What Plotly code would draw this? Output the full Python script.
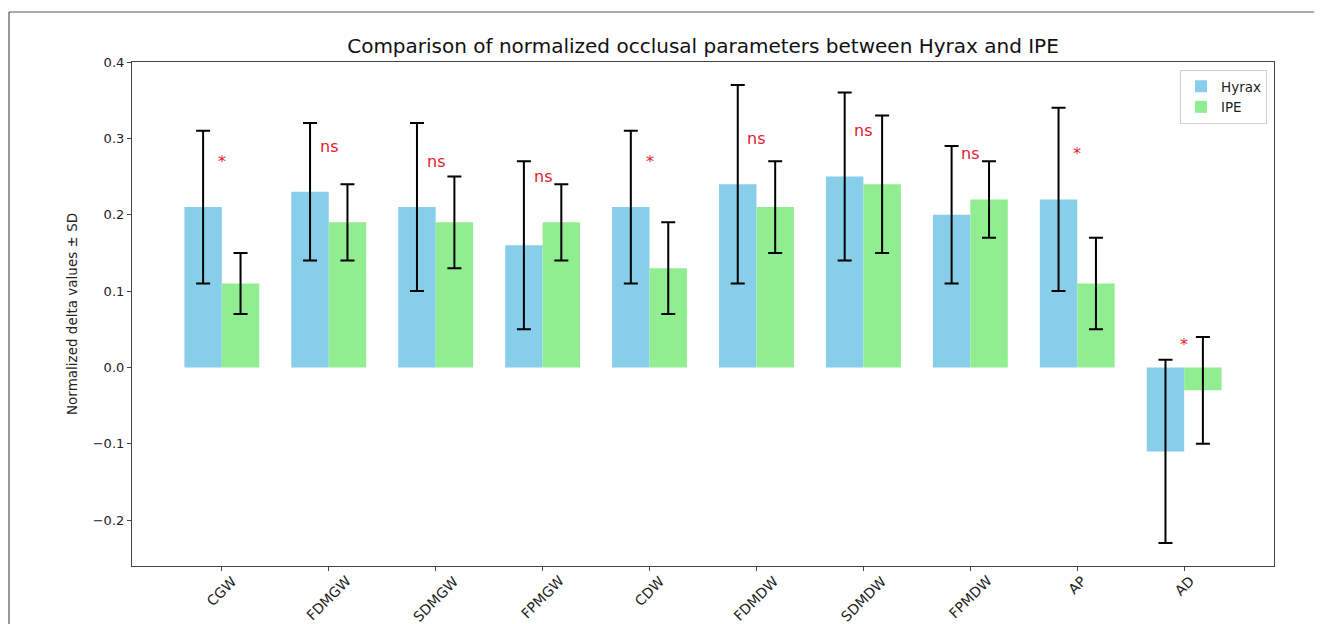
import plotly.graph_objects as go

categories = ["CGW", "FDMGW", "SDMGW", "FPMGW", "CDW", "FDMDW", "SDMDW", "FPMDW", "AP", "AD"]
hyrax_mean = [0.21, 0.23, 0.21, 0.16, 0.21, 0.24, 0.25, 0.20, 0.22, -0.11]
hyrax_sd = [0.10, 0.09, 0.11, 0.11, 0.10, 0.13, 0.11, 0.09, 0.12, 0.12]
ipe_mean = [0.11, 0.19, 0.19, 0.19, 0.13, 0.21, 0.24, 0.22, 0.11, -0.03]
ipe_sd = [0.04, 0.05, 0.06, 0.05, 0.06, 0.06, 0.09, 0.05, 0.06, 0.07]
significance = ["*", "ns", "ns", "ns", "*", "ns", "ns", "ns", "*", "*"]
y_ticks = [-0.2, -0.1, 0.0, 0.1, 0.2, 0.3, 0.4]

FONT = "DejaVu Sans"
OFF = 8  # page body margin
W, H = 1322 - OFF, 624 - OFF
L, T = 132 - OFF, 62 - OFF
R, B = W - (1274 - OFF), H - (566 - OFF)
PW, PH = W - L - R, H - T - B

def px_x(px):
    return (px - OFF - L) / PW

def px_y(py):
    return (H - B - (py - OFF)) / PH

fig = go.Figure()
fig.add_trace(go.Bar(
    x=categories, y=hyrax_mean, name="Hyrax",
    marker=dict(color="#87CEEB", line=dict(width=0)),
    error_y=dict(type="data", array=hyrax_sd, color="black", thickness=2, width=7),
))
fig.add_trace(go.Bar(
    x=categories, y=ipe_mean, name="IPE",
    marker=dict(color="#90EE90", line=dict(width=0)),
    error_y=dict(type="data", array=ipe_sd, color="black", thickness=2, width=7),
))

annotations = []
for cat, h, i, s in zip(categories, hyrax_mean, ipe_mean, significance):
    annotations.append(dict(
        x=cat, y=max(h, i) + 0.05, xref="x", yref="y", text=s, showarrow=False,
        xanchor="center", yanchor="bottom", yshift=-4,
        font=dict(family=FONT, size=16, color="#e3192b"),
    ))
for cat in categories:
    annotations.append(dict(
        x=cat, y=0, xref="x", yref="paper", text=cat, showarrow=False,
        xanchor="center", yanchor="top", yshift=-4, textangle=-45,
        font=dict(family=FONT, size=14, color="#222"),
    ))
annotations.append(dict(
    x=px_x(72), y=0.5, xref="paper", yref="paper", text="Normalized delta values ± SD",
    showarrow=False, textangle=-90, xanchor="center", yanchor="middle",
    font=dict(family=FONT, size=13.5, color="#222"),
))

frame_line = dict(color="#555", width=1.2)
fig.update_layout(
    width=W, height=H,
    margin=dict(l=L, r=R, t=T, b=B, autoexpand=False),
    paper_bgcolor="white", plot_bgcolor="white",
    barmode="group", bargap=0.3, bargroupgap=0,
    font=dict(family=FONT, size=13, color="#222"),
    title=dict(
        text="Comparison of normalized occlusal parameters between Hyrax and IPE",
        x=0.5, xref="paper", xanchor="center", y=1 - (46 - OFF) / H, yref="container",
        yanchor="middle", font=dict(family=FONT, size=20, color="#111"),
    ),
    legend=dict(
        x=px_x(1267), y=px_y(70), xanchor="right", yanchor="top",
        bgcolor="rgba(255,255,255,0.85)", bordercolor="#d0d0d0", borderwidth=1,
        font=dict(family=FONT, size=13.5, color="#222"), itemwidth=30,
    ),
    annotations=annotations,
    shapes=[
        dict(type="line", xref="paper", yref="paper",
             x0=px_x(9), x1=px_x(1340), y0=px_y(12), y1=px_y(12), line=frame_line, layer="below"),
        dict(type="line", xref="paper", yref="paper",
             x0=px_x(9), x1=px_x(9), y0=px_y(12), y1=px_y(640), line=frame_line, layer="below"),
    ],
)
fig.update_xaxes(
    type="category", range=[-0.84, 9.84], showticklabels=False,
    showline=True, linecolor="#444", linewidth=1.2, mirror=True,
    ticks="outside", ticklen=4, tickcolor="#444", showgrid=False, zeroline=False,
)
fig.update_yaxes(
    range=[-0.26, 0.4], tickvals=y_ticks, tickformat=".1f",
    showline=True, linecolor="#444", linewidth=1.2, mirror=True,
    ticks="outside", ticklen=4, tickcolor="#444", showgrid=False, zeroline=False,
    tickfont=dict(family=FONT, size=13, color="#222"),
)

fig.write_html("out.html")
